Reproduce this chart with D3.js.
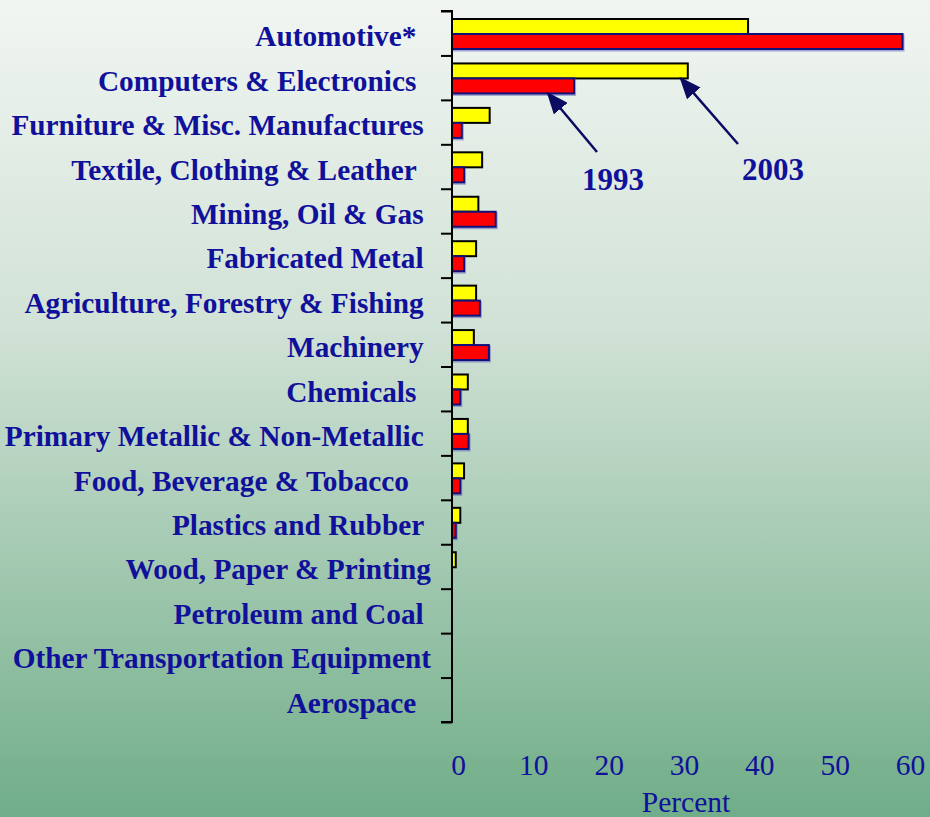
<!DOCTYPE html>
<html>
<head>
<meta charset="utf-8">
<script src="https://cdn.jsdelivr.net/npm/d3@7"></script>
<style>
  html, body { margin: 0; padding: 0; }
  svg { display: block; }
  text { white-space: pre; }
</style>
</head>
<body>
<script>
// ---- Data ----
const categories = [
  "Automotive*  ",
  "Computers & Electronics  ",
  "Furniture & Misc. Manufactures ",
  "Textile, Clothing & Leather  ",
  "Mining, Oil & Gas ",
  "Fabricated Metal ",
  "Agriculture, Forestry & Fishing ",
  "Machinery ",
  "Chemicals  ",
  "Primary Metallic & Non-Metallic ",
  "Food, Beverage & Tobacco   ",
  "Plastics and Rubber ",
  "Wood, Paper & Printing",
  "Petroleum and Coal ",
  "Other Transportation Equipment",
  "Aerospace  "
];
const seriesNames = ["2003", "1993"];
const values2003 = [39.3, 31.3, 5.0, 4.0, 3.5, 3.2, 3.2, 2.9, 2.1, 2.1, 1.6, 1.1, 0.5, 0, 0, 0];
const values1993 = [59.8, 16.2, 1.3, 1.6, 5.8, 1.6, 3.7, 4.9, 1.1, 2.2, 1.1, 0.5, 0, 0, 0, 0];
const xTicks = [0, 10, 20, 30, 40, 50, 60];
const xTitle = "Percent";

// ---- Layout ----
const W = 930, H = 817;
const svg = d3.select("body").append("svg").attr("width", W).attr("height", H);

const defs = svg.append("defs");
const grad = defs.append("linearGradient").attr("id", "bg")
  .attr("x1", 0).attr("y1", 0).attr("x2", 0).attr("y2", 1);
grad.append("stop").attr("offset", "0%").attr("stop-color", "#f1f5f2");
grad.append("stop").attr("offset", "40%").attr("stop-color", "#d1e2d6");
grad.append("stop").attr("offset", "100%").attr("stop-color", "#70ad88");
svg.append("rect").attr("width", W).attr("height", H).attr("fill", "url(#bg)");

defs.append("marker").attr("id", "arrowhead")
  .attr("viewBox", "0 0 10 10").attr("refX", 9).attr("refY", 5)
  .attr("markerWidth", 22).attr("markerHeight", 18)
  .attr("markerUnits", "userSpaceOnUse")
  .attr("orient", "auto")
  .attr("preserveAspectRatio", "none")
  .append("path").attr("d", "M0,0 L10,5 L0,10 Z").attr("fill", "#0b0b62");

const x = d3.scaleLinear().domain([0, 60]).range([452, 904]);
const y = d3.scaleBand().domain(categories).range([11, 722]).padding(0);
const yInner = d3.scaleBand().domain(seriesNames).range([8, 38]).padding(0);
const yEdges = d3.scaleLinear().domain([0, categories.length]).range([11, 722]);

const colors = { "2003": "#ffff00", "1993": "#ff0000" };
const strokes = { "2003": "#000000", "1993": "#10107a" };
const seriesVals = { "2003": values2003, "1993": values1993 };

const textColor = "#10109a";
const serif = "'Liberation Serif', 'Times New Roman', serif";

// ---- Bars ----
const g = svg.append("g");
seriesNames.forEach(s => {
  const data = categories.map((c, i) => ({ c, v: seriesVals[s][i] })).filter(d => d.v > 0);
  if (s === "1993") {
    g.selectAll(".sh" + s).data(data).join("rect")
      .attr("x", x(0) + 1)
      .attr("y", d => y(d.c) + yInner(s) + 1.5)
      .attr("width", d => x(d.v) - x(0))
      .attr("height", yInner.bandwidth())
      .attr("fill", "none").attr("stroke", "#5a5ab8").attr("stroke-width", 2).attr("opacity", 0.5);
  }
  g.selectAll(".b" + s).data(data).join("rect")
    .attr("x", x(0))
    .attr("y", d => y(d.c) + yInner(s))
    .attr("width", d => x(d.v) - x(0))
    .attr("height", yInner.bandwidth())
    .attr("fill", colors[s])
    .attr("stroke", strokes[s])
    .attr("stroke-width", 2);
});

// ---- Y axis (ticks at category boundaries) ----
const yAxis = d3.axisLeft(yEdges).tickValues(d3.range(categories.length + 1)).tickSize(11).tickFormat("");
const ya = svg.append("g").attr("transform", `translate(${x(0)},0)`).call(yAxis);
ya.selectAll("path, line").attr("stroke", "#000").attr("stroke-width", 2);
ya.select(".domain").attr("d", `M-11,${yEdges(0)}H0V${yEdges(categories.length)}H-11`);

// category labels
svg.append("g").selectAll("text").data(categories).join("text")
  .attr("x", 431)
  .attr("y", d => y(d) + y.bandwidth() / 2 + 13)
  .attr("text-anchor", "end")
  .attr("font-family", serif)
  .attr("font-weight", "bold")
  .attr("font-size", 29.3)
  .attr("fill", textColor)
  .text(d => d);

// ---- X axis ----
const xAxis = d3.axisBottom(x).tickValues(xTicks).tickSize(0).tickPadding(0).tickFormat(d3.format("d"));
const xa = svg.append("g").attr("transform", `translate(0,775)`).call(xAxis);
xa.select(".domain").remove();
xa.selectAll("text")
  .attr("dy", 0).attr("dx", 6)
  .attr("font-family", serif)
  .attr("font-size", 29.5)
  .attr("fill", textColor);

svg.append("text")
  .attr("x", x(30) + 8).attr("y", 812)
  .attr("text-anchor", "middle")
  .attr("font-family", serif)
  .attr("font-size", 29.5)
  .attr("fill", textColor)
  .text(xTitle);

// ---- Annotations ----
const comp = categories[1];
const ann = [
  { label: "1993", tipX: x(values1993[1]) - 26, tipY: y(comp) + yInner("1993") + yInner.bandwidth(),
    fromX: 597, fromY: 152, tx: 613, ty: 190 },
  { label: "2003", tipX: x(values2003[1]) - 7, tipY: y(comp) + yInner("2003") + yInner.bandwidth(),
    fromX: 738, fromY: 144, tx: 773, ty: 180 }
];
ann.forEach(a => {
  svg.append("line")
    .attr("x1", a.fromX).attr("y1", a.fromY)
    .attr("x2", a.tipX).attr("y2", a.tipY)
    .attr("stroke", "#0b0b62").attr("stroke-width", 2.5)
    .attr("marker-end", "url(#arrowhead)");
  svg.append("text")
    .attr("x", a.tx).attr("y", a.ty)
    .attr("text-anchor", "middle")
    .attr("font-family", serif)
    .attr("font-weight", "bold")
    .attr("font-size", 31)
    .attr("fill", textColor)
    .text(a.label);
});
</script>
</body>
</html>
